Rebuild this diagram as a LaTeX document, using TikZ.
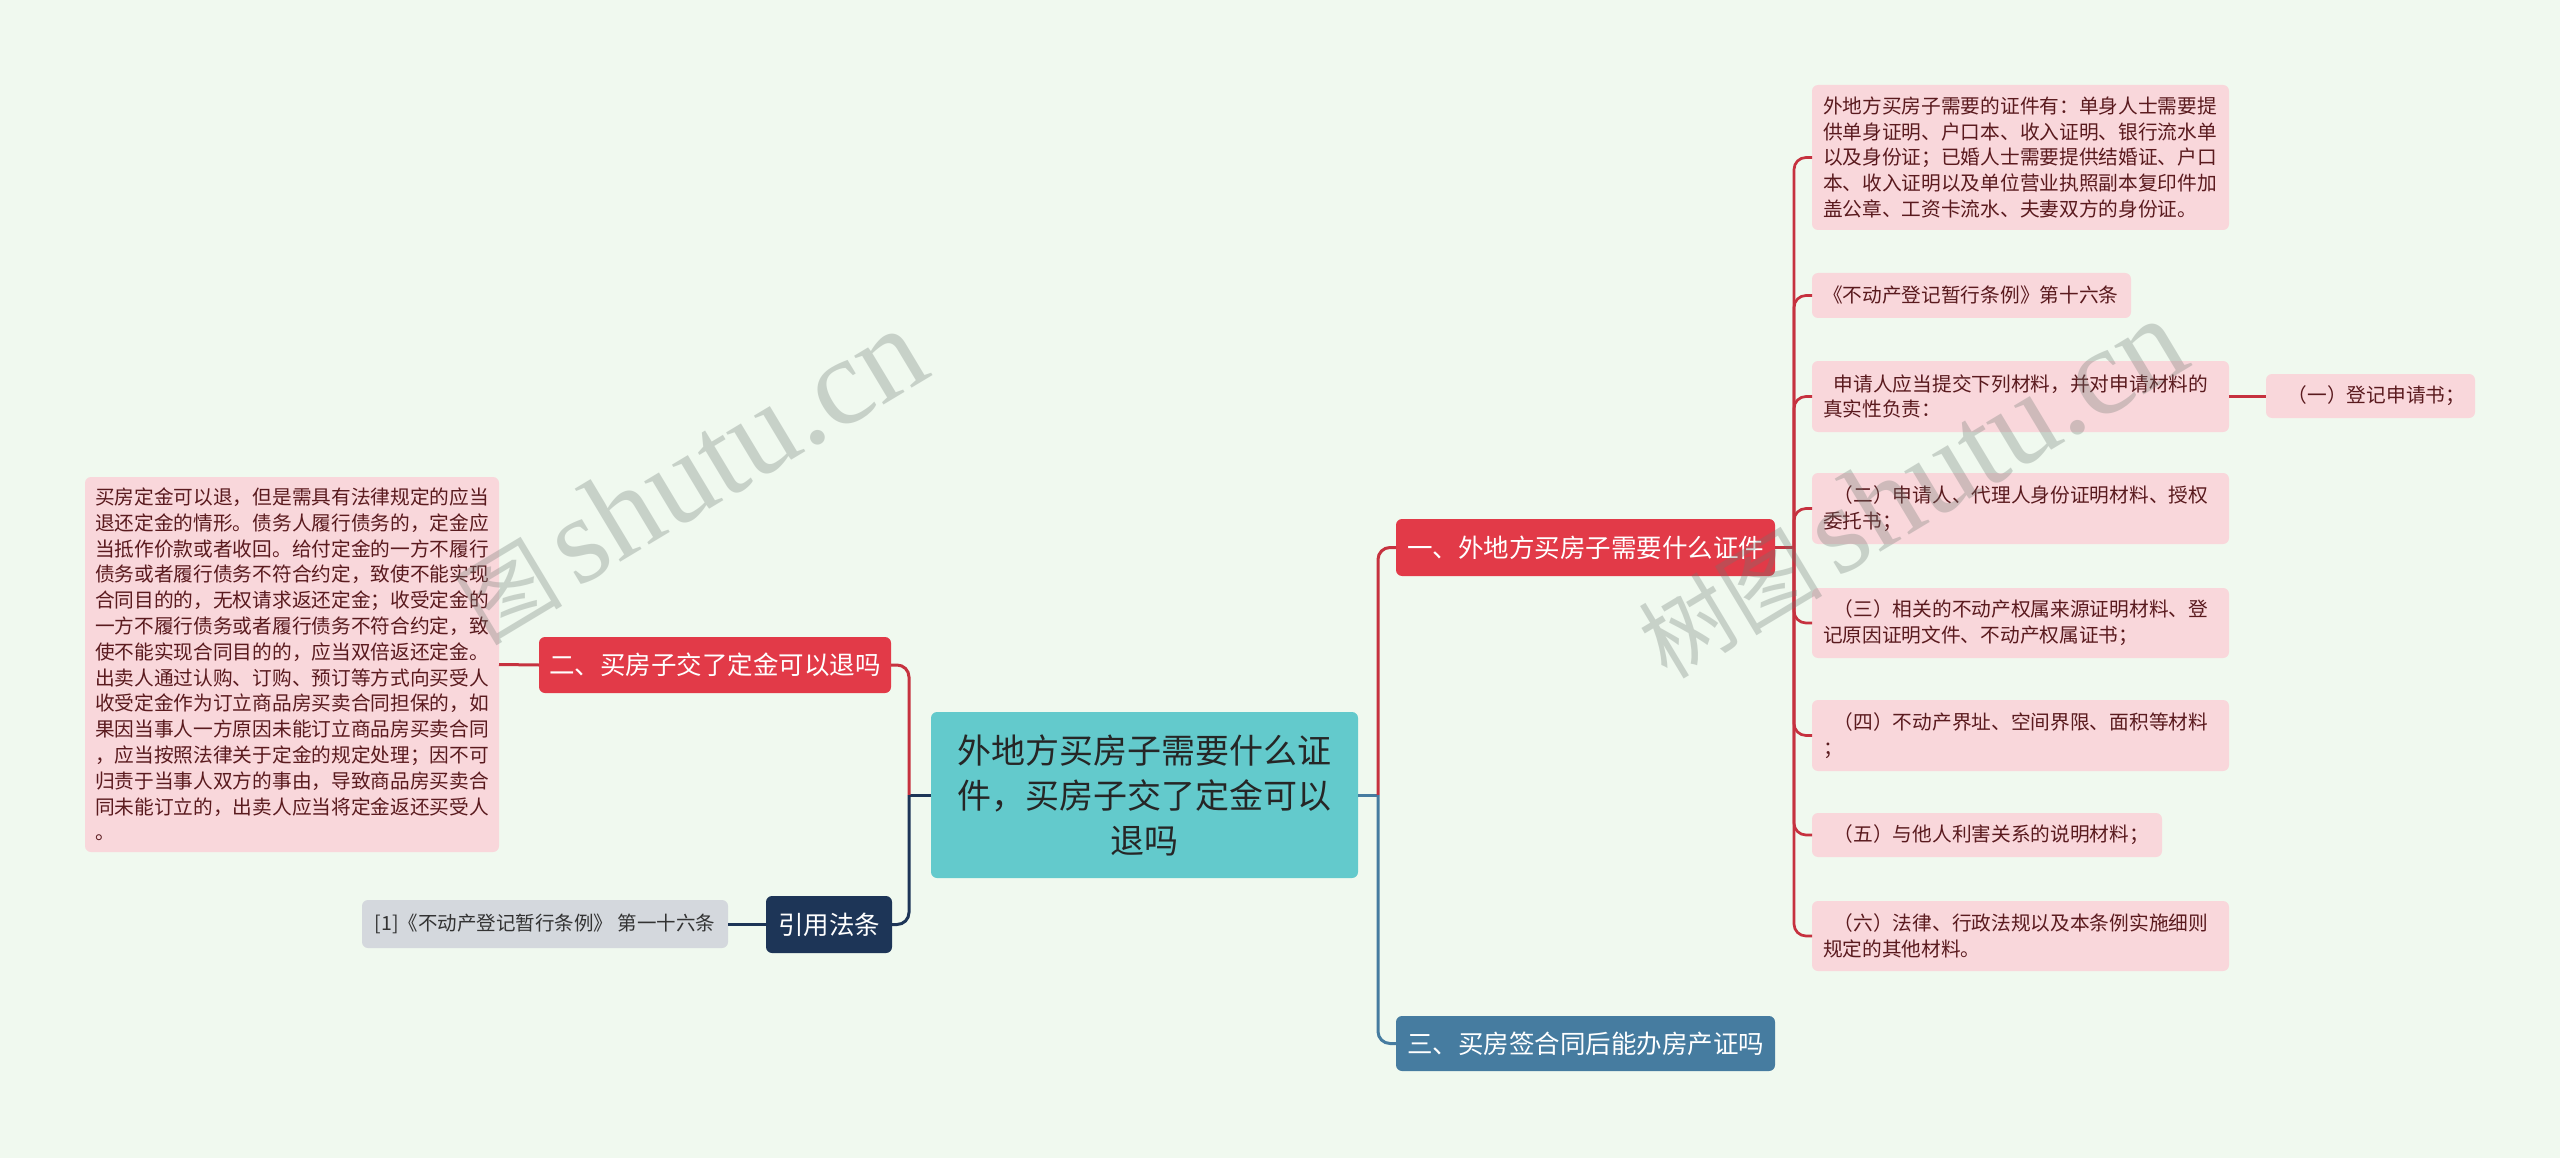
\documentclass[tikz,border=0pt]{standalone}
\usepackage{fontspec}
\newfontfamily\cjk{Noto Sans CJK SC}
\newfontfamily\wmlat{Liberation Serif}
\usetikzlibrary{calc}
\definecolor{bg}{HTML}{F0F9EF}
\definecolor{rootfill}{HTML}{63CACC}
\definecolor{redfill}{HTML}{E23A48}
\definecolor{bluefill}{HTML}{467CA0}
\definecolor{navyfill}{HTML}{1D3557}
\definecolor{leafpink}{HTML}{F9D7DB}
\definecolor{leafgrey}{HTML}{D4D8DD}
\definecolor{leaftext}{HTML}{5A1A1E}
\definecolor{redline}{HTML}{C6323F}
\definecolor{wmgrey}{RGB}{107,119,112}
\begin{document}
\begin{tikzpicture}[x=1pt,y=-1pt,
  box/.style={rounded corners=6pt, inner sep=0pt, outer sep=0pt, anchor=north west},
  rootbox/.style={box, fill=rootfill, text=black!85, align=center, font=\cjk\fontsize{34}{45}\selectfont},
  branch/.style={box, text=white, align=center, font=\cjk\fontsize{25.5}{30}\selectfont},
  leaf/.style={box, fill=leafpink, text=leaftext, align=left, inner xsep=11pt, font=\cjk\fontsize{19.7}{25.8}\selectfont},
  greyleaf/.style={box, fill=leafgrey, text=black!80, align=center, font=\cjk\fontsize{19.5}{24}\selectfont},
  lnred/.style={draw=redline, line width=3pt, rounded corners=12pt},
  lnblue/.style={draw=bluefill, line width=3pt, rounded corners=12pt},
  lnnavy/.style={draw=navyfill, line width=3pt, rounded corners=12pt},
  wm/.style={text=wmgrey, opacity=0.3, inner sep=0pt},
]
\fill[bg] (0,0) rectangle (2560,1158);
\useasboundingbox (0,0) rectangle (2560,1158);

% root
\node[rootbox, minimum width=427pt, minimum height=166pt] (root) at (931,712)
  {外地方买房子需要什么证\\件，买房子交了定金可以\\退吗};

% branches
\node[branch, fill=redfill, minimum width=379pt, minimum height=57pt] (b1) at (1396,519) {一、外地方买房子需要什么证件};
\node[branch, fill=bluefill, minimum width=379pt, minimum height=55pt] (b3) at (1396,1016) {三、买房签合同后能办房产证吗};
\node[branch, fill=redfill, minimum width=352pt, minimum height=56pt] (b2) at (539,637) {二、买房子交了定金可以退吗};
\node[branch, fill=navyfill, minimum width=126pt, minimum height=57pt] (law) at (766,896) {引用法条};

% left leaves
\node[leaf, inner xsep=10pt, text width=394pt, minimum height=375pt] (big) at (85,477)
  {买房定金可以退，但是需具有法律规定的应当\\
   退还定金的情形。债务人履行债务的，定金应\\
   当抵作价款或者收回。给付定金的一方不履行\\
   债务或者履行债务不符合约定，致使不能实现\\
   合同目的的，无权请求返还定金；收受定金的\\
   一方不履行债务或者履行债务不符合约定，致\\
   使不能实现合同目的的，应当双倍返还定金。\\
   出卖人通过认购、订购、预订等方式向买受人\\
   收受定金作为订立商品房买卖合同担保的，如\\
   果因当事人一方原因未能订立商品房买卖合同\\
   ，应当按照法律关于定金的规定处理；因不可\\
   归责于当事人双方的事由，导致商品房买卖合\\
   同未能订立的，出卖人应当将定金返还买受人\\
   。};
\node[greyleaf, minimum width=366pt, minimum height=48pt] (grey) at (362,900) {[1]《不动产登记暂行条例》 第一十六条};

% right leaves
\node[leaf, text width=395pt, minimum height=145pt] (L1) at (1812,85)
  {外地方买房子需要的证件有：单身人士需要提\\
   供单身证明、户口本、收入证明、银行流水单\\
   以及身份证；已婚人士需要提供结婚证、户口\\
   本、收入证明以及单位营业执照副本复印件加\\
   盖公章、工资卡流水、夫妻双方的身份证。};
\node[leaf, text width=297pt, minimum height=45pt] (L2) at (1812,273)
  {《不动产登记暂行条例》第十六条};
\node[leaf, text width=395pt, minimum height=71pt] (L3) at (1812,361)
  {\hspace*{0.55em}申请人应当提交下列材料，并对申请材料的\\真实性负责：};
\node[leaf, text width=187pt, minimum height=44pt] (L3a) at (2266,374)
  {\hspace*{0.55em}（一）登记申请书；};
\node[leaf, text width=395pt, minimum height=71pt] (L4) at (1812,473)
  {\hspace*{0.55em}（二）申请人、代理人身份证明材料、授权\\委托书；};
\node[leaf, text width=395pt, minimum height=70pt] (L5) at (1812,588)
  {\hspace*{0.55em}（三）相关的不动产权属来源证明材料、登\\记原因证明文件、不动产权属证书；};
\node[leaf, text width=395pt, minimum height=71pt] (L6) at (1812,700)
  {\hspace*{0.55em}（四）不动产界址、空间界限、面积等材料\\；};
\node[leaf, text width=328pt, minimum height=44pt] (L7) at (1812,813)
  {\hspace*{0.55em}（五）与他人利害关系的说明材料；};
\node[leaf, text width=395pt, minimum height=70pt] (L8) at (1812,901)
  {\hspace*{0.55em}（六）法律、行政法规以及本条例实施细则\\规定的其他材料。};

% junctions
\coordinate (jr) at ($(root.east)+(20,0)$);
\coordinate (jl) at ($(root.west)+(-22,0)$);
\coordinate (t1) at ($(b1.east)+(19,0)$);

% connectors
\draw[lnblue] (root.east) -- (jr);
\draw[lnred] (jr) |- (b1.west);
\draw[lnblue] (jr) |- (b3.west);
\draw[lnnavy] (root.west) -- (jl);
\draw[lnred] (jl) |- (b2.east);
\draw[lnnavy] (jl) |- (law.east);
\draw[lnred] (b2.west) -- (big.east);
\draw[lnnavy] (law.west) -- (law.west -| grey.east);
\draw[lnred] (b1.east) -- (t1);
\foreach \n in {L1,L2,L3,L4,L5,L6,L7,L8}{
  \draw[lnred, line width=2.7pt] (t1) |- (\n.west);
}
\draw[lnred, line width=2.7pt] (L3.east) -- (L3.east -| L3a.west);

% watermarks
\node[wm, rotate=31, anchor=base east] (wm1) at (935,374)
  {{\cjk\fontsize{92}{92}\selectfont 图}\hspace{14pt}{\wmlat\fontsize{124}{124}\selectfont shutu.cn}};
\node[wm, rotate=31, anchor=base east] (wm2) at (2195,364)
  {{\cjk\fontsize{92}{92}\selectfont 树图}\hspace{14pt}{\wmlat\fontsize{124}{124}\selectfont shutu.cn}};
\end{tikzpicture}
\end{document}
